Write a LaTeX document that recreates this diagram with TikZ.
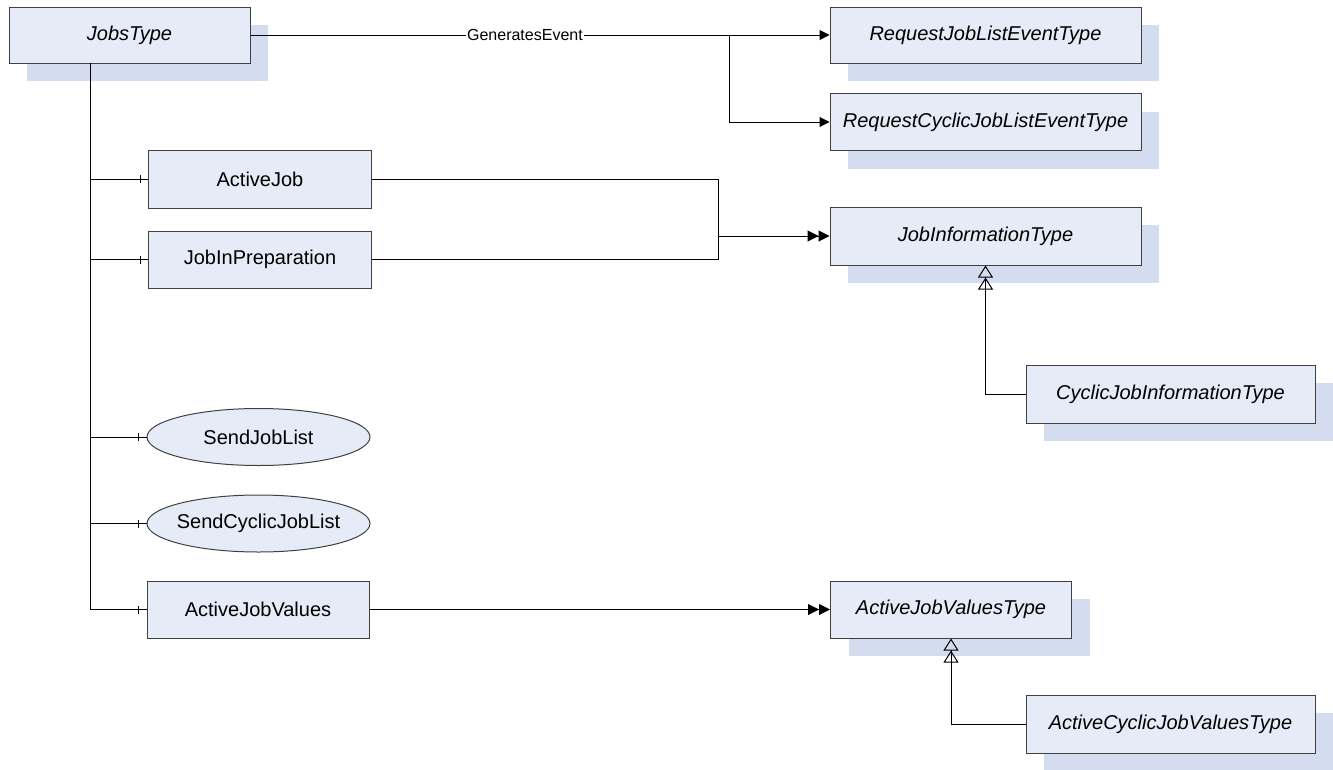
\documentclass[tikz,border=0pt]{standalone}
\usepackage{fontspec}
\setmainfont{Liberation Sans}
\usetikzlibrary{arrows.meta,shadows,shapes.geometric,decorations.markings}
\definecolor{boxfill}{HTML}{E6ECF7}
\definecolor{boxshade}{HTML}{D3DDEF}
\definecolor{boxline}{HTML}{404040}

\begin{document}
\begin{tikzpicture}[x=1pt,y=-1pt,
  objbox/.style={draw=boxline,fill=boxfill,line width=1pt,minimum width=223pt,
    minimum height=57pt,inner sep=2pt,font=\fontsize{20}{24}\selectfont},
  typebox/.style={objbox,font=\fontsize{20}{24}\selectfont\itshape,
    drop shadow={shadow xshift=18pt,shadow yshift=-18pt,fill=boxshade,opacity=1}},
  methnode/.style={objbox,ellipse,inner xsep=-10pt,inner ysep=0pt},
  hascomp/.style={line width=1pt,postaction={decorate},decoration={markings,
    mark=at position -8pt with {\draw[line width=0.8pt] (0,-4pt) -- (0,4pt);}}},
  genevent/.style={line width=1pt,-{Triangle[length=10pt,width=10pt]}},
  typedef/.style={line width=1pt,
    -{Triangle[length=11pt,width=11pt,sep=0pt]Triangle[length=11pt,width=11pt,sep=0pt]}},
  subtype/.style={line width=1pt,
    -{Triangle[open,length=12pt,width=15pt,sep=0pt]Triangle[open,length=12pt,width=15pt,sep=0pt]}}]
  \useasboundingbox (0,0) rectangle (1333,769);

  \node[typebox,minimum width=241pt,minimum height=56pt] (JobsType) at (129.5,35) {JobsType};
  \node[typebox,minimum width=311pt,minimum height=56pt] (RequestJobListEventType) at (985.5,35) {RequestJobListEventType};
  \node[typebox,minimum width=311pt] (RequestCyclicJobListEventType) at (985.5,122) {RequestCyclicJobListEventType};
  \node[typebox,minimum width=311pt,minimum height=58pt] (JobInformationType) at (985.5,236) {JobInformationType};
  \node[typebox,minimum width=289pt,minimum height=58pt] (CyclicJobInformationType) at (1170.5,394) {CyclicJobInformationType};
  \node[typebox,minimum width=241pt] (ActiveJobValuesType) at (951,609.5) {ActiveJobValuesType};
  \node[typebox,minimum width=289pt,minimum height=58pt] (ActiveCyclicJobValuesType) at (1170.5,724) {ActiveCyclicJobValuesType};

  \node[objbox,minimum height=58pt] (ActiveJob) at (260,179) {ActiveJob};
  \node[objbox] (JobInPreparation) at (260,259.5) {JobInPreparation};
  \node[methnode] (SendJobList) at (258.5,437) {SendJobList};
  \node[methnode] (SendCyclicJobList) at (258.5,523.5) {SendCyclicJobList};
  \node[objbox,minimum width=222pt] (ActiveJobValues) at (258,609.5) {ActiveJobValues};

  % components of JobsType
  \coordinate (spine) at (90,63);
  \foreach \c in {ActiveJob,JobInPreparation,SendJobList,SendCyclicJobList,ActiveJobValues}
    \draw[hascomp] (spine) |- (\c.west);

  % events
  \draw[genevent] (JobsType.east) -- node[pos=0.474,fill=white,inner sep=1pt,
    font=\fontsize{16}{18}\selectfont] (evlabel) {GeneratesEvent} (RequestJobListEventType.west);
  \coordinate (evsplit) at (729,35);
  \draw[genevent] (evsplit) |- (RequestCyclicJobListEventType.west);

  % type definitions
  \coordinate (tjoin) at (718,236);
  \draw[line width=1pt] (ActiveJob.east) -| (tjoin);
  \draw[line width=1pt] (JobInPreparation.east) -| (tjoin);
  \draw[typedef] (tjoin) -- (JobInformationType.west);
  \draw[typedef] (ActiveJobValues.east) -- (ActiveJobValuesType.west);

  % subtypes
  \draw[subtype] (CyclicJobInformationType.west) -| (JobInformationType.south);
  \draw[subtype] (ActiveCyclicJobValuesType.west) -| (ActiveJobValuesType.south);
\end{tikzpicture}
\end{document}
